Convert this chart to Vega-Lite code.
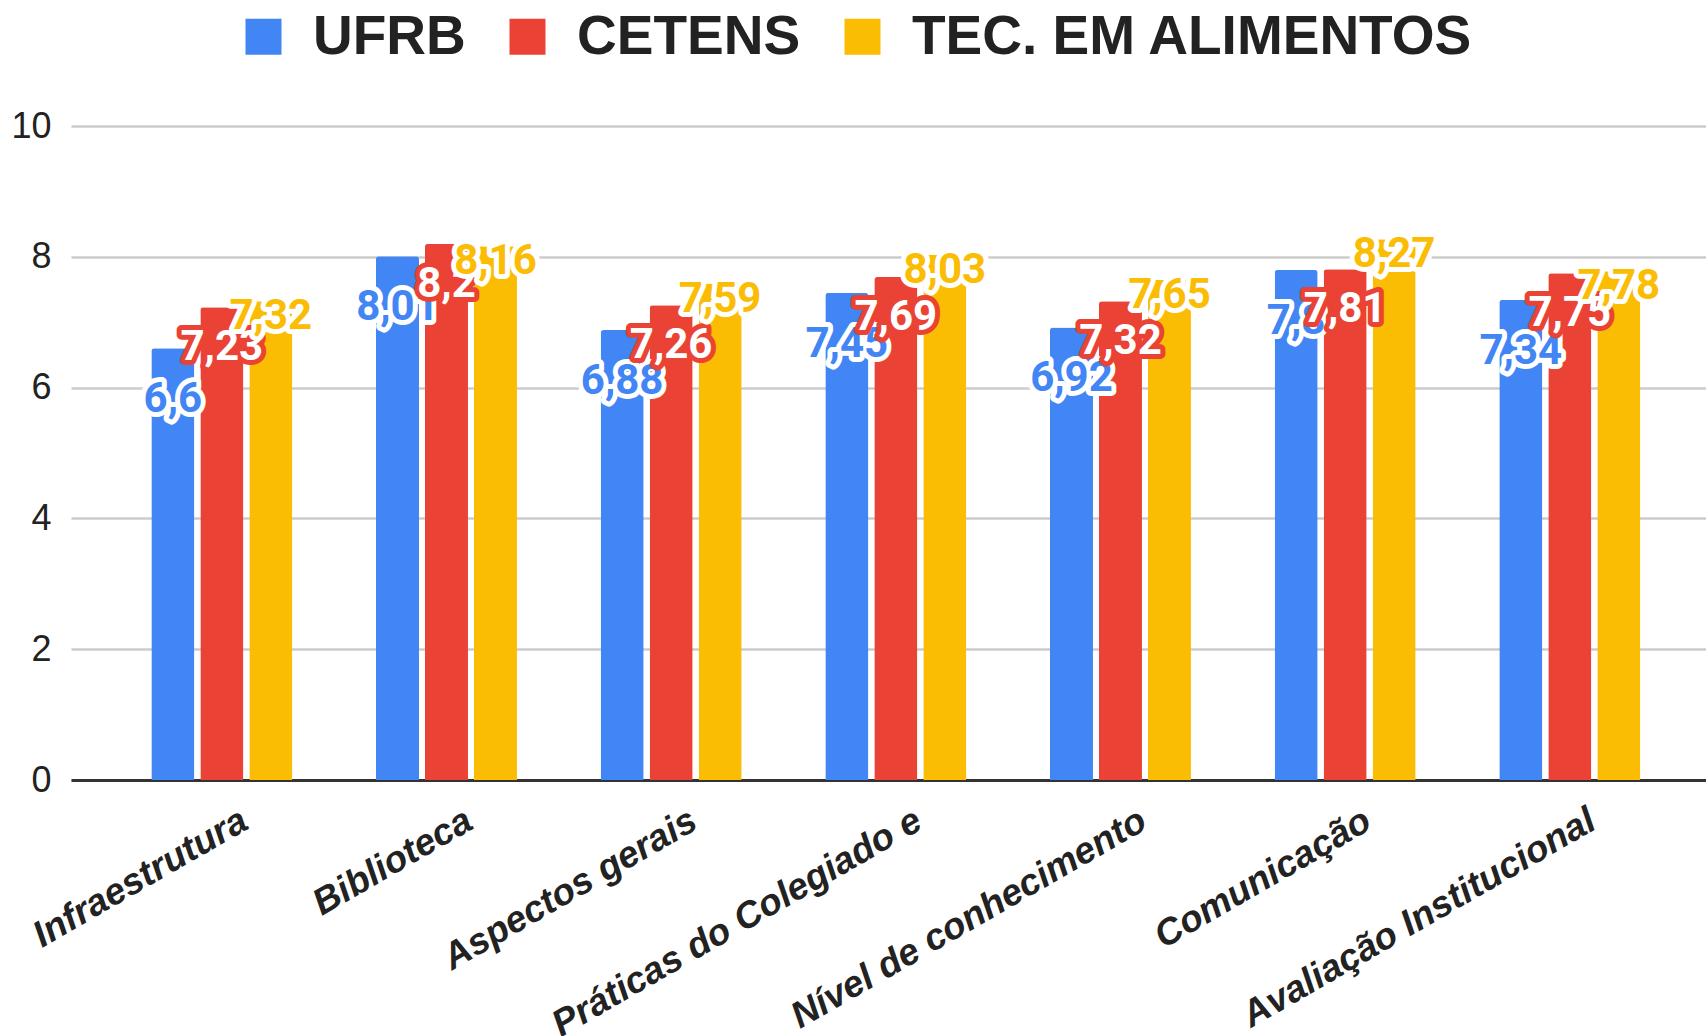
{
  "$schema": "https://vega.github.io/schema/vega-lite/v6.json",
  "width": 1635,
  "height": 654,
  "autosize": {"type": "none"},
  "padding": {"left": 71, "top": 126, "right": 0, "bottom": 256},
  "background": "white",
  "config": {"view": {"stroke": null}},
  "data": {
    "values": [
      {"categoria": "Infraestrutura", "serie": "UFRB", "valor": 6.6},
      {"categoria": "Infraestrutura", "serie": "CETENS", "valor": 7.23},
      {"categoria": "Infraestrutura", "serie": "TEC. EM ALIMENTOS", "valor": 7.32},
      {"categoria": "Biblioteca", "serie": "UFRB", "valor": 8.01},
      {"categoria": "Biblioteca", "serie": "CETENS", "valor": 8.2},
      {"categoria": "Biblioteca", "serie": "TEC. EM ALIMENTOS", "valor": 8.16},
      {"categoria": "Aspectos gerais", "serie": "UFRB", "valor": 6.88},
      {"categoria": "Aspectos gerais", "serie": "CETENS", "valor": 7.26},
      {"categoria": "Aspectos gerais", "serie": "TEC. EM ALIMENTOS", "valor": 7.59},
      {"categoria": "Práticas do Colegiado e", "serie": "UFRB", "valor": 7.45},
      {"categoria": "Práticas do Colegiado e", "serie": "CETENS", "valor": 7.69},
      {"categoria": "Práticas do Colegiado e", "serie": "TEC. EM ALIMENTOS", "valor": 8.03},
      {"categoria": "Nível de conhecimento", "serie": "UFRB", "valor": 6.92},
      {"categoria": "Nível de conhecimento", "serie": "CETENS", "valor": 7.32},
      {"categoria": "Nível de conhecimento", "serie": "TEC. EM ALIMENTOS", "valor": 7.65},
      {"categoria": "Comunicação", "serie": "UFRB", "valor": 7.8},
      {"categoria": "Comunicação", "serie": "CETENS", "valor": 7.81},
      {"categoria": "Comunicação", "serie": "TEC. EM ALIMENTOS", "valor": 8.27},
      {"categoria": "Avaliação Institucional", "serie": "UFRB", "valor": 7.34},
      {"categoria": "Avaliação Institucional", "serie": "CETENS", "valor": 7.75},
      {"categoria": "Avaliação Institucional", "serie": "TEC. EM ALIMENTOS", "valor": 7.78}
    ]
  },
  "transform": [
    {"calculate": "replace(toString(datum.valor), '.', ',')", "as": "rotulo"}
  ],
  "encoding": {
    "x": {
      "field": "categoria",
      "type": "nominal",
      "sort": null,
      "scale": {"paddingInner": 0.3724, "paddingOuter": 0.325, "align": 0.55},
      "axis": {
        "title": null,
        "labelAngle": -30,
        "labelAlign": "right",
        "labelBaseline": "top",
        "labelFont": "Liberation Sans",
        "labelFontSize": 37,
        "labelFontWeight": "bold",
        "labelFontStyle": "italic",
        "labelColor": "#222222",
        "labelOffset": 14,
        "labelPadding": 22,
        "labelLimit": 1000,
        "labelOverlap": false,
        "labelBound": false,
        "ticks": false,
        "tickSize": 0,
        "domain": true,
        "domainColor": "#333333",
        "domainWidth": 3,
        "grid": false
      }
    },
    "xOffset": {
      "field": "serie",
      "type": "nominal",
      "sort": ["UFRB", "CETENS", "TEC. EM ALIMENTOS"],
      "scale": {"paddingInner": 0.122, "paddingOuter": 0}
    },
    "y": {
      "field": "valor",
      "type": "quantitative",
      "scale": {"domain": [0, 10], "nice": false},
      "axis": {
        "title": null,
        "values": [0, 2, 4, 6, 8, 10],
        "labelFont": "Liberation Sans",
        "labelFontSize": 36,
        "labelColor": "#222222",
        "labelPadding": 20,
        "ticks": false,
        "tickSize": 0,
        "domain": false,
        "grid": true,
        "gridColor": "#cccccc",
        "gridWidth": 2.5
      }
    }
  },
  "layer": [
    {
      "mark": {"type": "bar", "cornerRadiusTopLeft": 3, "cornerRadiusTopRight": 3},
      "encoding": {
        "color": {
          "field": "serie",
          "type": "nominal",
          "sort": ["UFRB", "CETENS", "TEC. EM ALIMENTOS"],
          "scale": {
            "domain": ["UFRB", "CETENS", "TEC. EM ALIMENTOS"],
            "range": ["#4285F4", "#EA4335", "#FBBC04"]
          },
          "legend": {
            "orient": "none",
            "legendX": 165,
            "legendY": -117,
            "direction": "horizontal",
            "title": null,
            "symbolType": "square",
            "symbolSize": 1296,
            "symbolStrokeWidth": 0,
            "symbolOpacity": 1,
            "labelFont": "Liberation Sans",
            "labelFontSize": 55,
            "labelFontWeight": "bold",
            "labelColor": "#222222",
            "labelOffset": 22,
            "columnPadding": 34,
            "labelLimit": 1000,
            "padding": 0
          }
        }
      }
    },
    {
      "transform": [{"filter": "datum.serie === 'UFRB'"}],
      "mark": {"type": "text", "font": "Roboto", "fontWeight": "bold", "fontSize": 42, "align": "center", "baseline": "middle", "dy": 51, "fill": "white", "stroke": "white", "strokeWidth": 10, "strokeJoin": "round"},
      "encoding": {"text": {"field": "rotulo"}}
    },
    {
      "transform": [{"filter": "datum.serie === 'UFRB'"}],
      "mark": {"type": "text", "font": "Roboto", "fontWeight": "bold", "fontSize": 42, "align": "center", "baseline": "middle", "dy": 51, "fill": "#4285F4"},
      "encoding": {"text": {"field": "rotulo"}}
    },
    {
      "transform": [{"filter": "datum.serie === 'CETENS'"}],
      "mark": {"type": "text", "font": "Roboto", "fontWeight": "bold", "fontSize": 42, "align": "center", "baseline": "middle", "dy": 40, "fill": "#EA4335", "stroke": "#EA4335", "strokeWidth": 10, "strokeJoin": "round"},
      "encoding": {"text": {"field": "rotulo"}}
    },
    {
      "transform": [{"filter": "datum.serie === 'CETENS'"}],
      "mark": {"type": "text", "font": "Roboto", "fontWeight": "bold", "fontSize": 42, "align": "center", "baseline": "middle", "dy": 40, "fill": "white"},
      "encoding": {"text": {"field": "rotulo"}}
    },
    {
      "transform": [{"filter": "datum.serie === 'TEC. EM ALIMENTOS'"}],
      "mark": {"type": "text", "font": "Roboto", "fontWeight": "bold", "fontSize": 42, "align": "center", "baseline": "middle", "dy": 15, "fill": "white", "stroke": "white", "strokeWidth": 10, "strokeJoin": "round"},
      "encoding": {"text": {"field": "rotulo"}}
    },
    {
      "transform": [{"filter": "datum.serie === 'TEC. EM ALIMENTOS'"}],
      "mark": {"type": "text", "font": "Roboto", "fontWeight": "bold", "fontSize": 42, "align": "center", "baseline": "middle", "dy": 15, "fill": "#FBBC04"},
      "encoding": {"text": {"field": "rotulo"}}
    }
  ]
}
